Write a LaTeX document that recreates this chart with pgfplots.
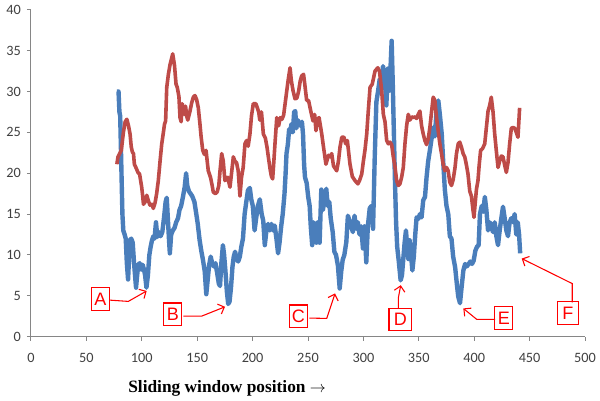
\documentclass[border=0pt]{standalone}
\usepackage{fontspec}
\setmainfont{Carlito}
\newfontfamily\serifb{Liberation Serif}
\newfontfamily\lsans{Liberation Sans}
\usepackage{pgfplots}
\pgfplotsset{compat=1.18}
\usetikzlibrary{arrows.meta}
\definecolor{xlblue}{HTML}{4A7EBB}
\definecolor{xlred}{HTML}{BE4B48}
\definecolor{axgray}{HTML}{868686}
\pgfplotstableread{
x y
77.5 30
79 30
79.8 27.5
80.5 27
81.5 21
82.5 15
83.3 13
84.5 12.5
85.5 12
86.5 9
87.6 7
88.3 9
89.2 11.8
90.5 12
91.8 11.5
93 9
94.8 6
95.8 7.5
96.8 8.8
98 9
99.5 8.2
100.8 8.8
102 8.2
103 7.5
104.2 6
105.5 7.5
106.8 10
108 11
109.2 11.8
110.5 12.3
111.5 12
112.8 14
114 12.2
115.5 12.8
117 12.3
118.5 12.8
120 14.5
121.5 16.5
122.5 17
123.5 14.5
124.5 12
125.3 10.2
126.5 12.5
128 13
129.5 13.3
131 14
132.7 14.5
134 15.5
135.5 16
137 17
138.7 18.3
140 20
141 18.5
142.5 17.8
144 17.5
145.5 17.2
147.5 16.5
149.2 15
150.5 13.8
152.2 11.8
153.7 10.5
155.2 9.4
156.8 8
158.2 5.2
159.5 7
160.8 8.8
162.2 9.8
163.5 9
165 8.6
166.5 9
168 7.8
169.5 6.5
170.6 6.2
171.8 9
173.2 11.2
174.3 10
175.5 8
176.8 5.5
178 4
179.2 4.3
180.5 6
181.8 8.5
183 9.8
184.2 10.4
185.5 9.6
187 9.2
188.5 9.8
189.8 11
191.3 12
192.8 15
194.3 16.5
195.8 17.9
197.5 18.2
198.8 16.8
200.2 16
201.8 13
203.2 14.5
204.8 16
206.5 16.8
208.2 15
209.6 14.2
211 11.2
212.5 13
214 13.8
215.5 13
217 13.8
218.5 13
220 13.6
221.5 12
223 10.2
224.3 11.5
225.8 13.5
227.2 15
228.8 17.5
229.8 20
230.6 22.4
231.8 23.5
233 25.4
234.2 25
235 26
236.3 25
237.5 27.5
238.5 27.6
239.5 25.5
240.8 26.5
242 26
243.3 25.8
244.5 26.3
245.5 24.8
246.5 21
247.3 19.5
248.8 18.8
250.2 17.1
251.5 16
252.5 13.5
253.8 11.2
255 14
256.3 13.5
257.5 11.5
259 14
260.5 11.5
262 18
263.5 15.5
265 17
266.5 18.1
267.8 16
269.2 16.5
270.5 14.5
272.3 12.8
273.8 10.4
275.3 10
277 8.7
278.6 5.9
280 8
281.3 9.4
282.8 10
284.6 11.6
286 14.8
287.5 14.2
289 13.5
290.5 12.8
292 14.8
293.5 13.2
295 14
296.5 12.5
298 13.5
299.6 10.8
301 13.5
302.6 9.1
304 13.5
305.7 15.7
307.2 16
308.7 13.2
310.2 21.8
311.7 28.7
313.2 30
314.7 31.5
316 30.5
317.7 33.1
319.2 31.8
320.7 28.3
322.2 32.8
323.5 30.1
324.5 33
325.5 36.2
326.5 31
327.5 25
328.5 19
329.5 14
330.5 11
331.8 9.4
333.6 6.9
334.8 7.5
336 9.5
337.2 11.5
338.4 13
339.6 11
340.6 9.5
341.7 11.8
343 10
344.2 8.1
345.5 9.8
346.8 12.5
348 14.6
349.5 14.4
351 15
352.5 14.6
354 16.7
355.6 17.1
357 19.5
358.5 21.5
360 22.8
361.5 24.2
363 25.6
364.5 24.5
366 27.6
367.6 28.9
369 27.2
370.7 24.8
372 21.5
373.5 18
375 16
376.6 15
378 12.3
379.5 12
381 9.8
382.8 8.5
384.3 6.5
385.6 4.9
387.2 4.1
388.6 6
390.2 8.1
391.8 8.9
393.3 8.6
395 8.9
396.5 9.2
398 8.9
399.5 9.3
401 10.5
402.5 11
404 11.2
405.2 15
406.8 16
408.2 15.3
409.6 17.1
411 15.5
412.5 13
414 14
415.5 13.5
417 12.8
418.5 14
420 12.3
421.5 11.2
423 13
424.5 14.5
426 15.9
427.5 14.5
429 13
430.5 12.3
432 14
433.5 14.5
435 14
436.5 15
438 12.5
439.3 14
440.5 12.5
441.5 10.2
}\blueseries
\pgfplotstableread{
x y
77.5 21.1
78.5 22
80 22.4
81.5 22.8
83.4 25
85 26.3
86.5 26.6
88 25.8
89.4 24.8
90.5 23.2
91.5 22.6
92.5 22.4
93.3 21.1
95 20.6
96.5 20.1
98 19.9
99.9 18.3
100.8 17.2
101.5 16.2
103 16.5
104.5 17.3
106 16.6
107.4 16.1
109 16.2
110.4 15.7
112 16.4
113.4 17.5
114.9 19.1
116.5 21.5
118 23.6
119.5 25
120.5 26
121.5 26.4
122.5 30.5
124 32.1
125.5 33.3
127.9 34.6
129.5 33.2
130.9 30.9
132 30.5
133.5 29.4
134.5 26.8
135.5 26.3
136.5 28.5
137.5 27.8
138.5 27.2
139.5 28.2
140.5 27
141.5 26.5
143.5 27.6
145 28.6
146.5 29.3
148 29.5
149.5 29
151 28
152.5 26
153.5 24.5
155 22.8
156.5 22.3
158 22.8
159 21.5
160 20.3
162 19.5
163.5 18.5
164.5 17.7
166.5 17.5
168 17.7
169.5 18.5
170.6 20.3
172.1 22.4
173.5 21.5
175 19.1
177.5 19.5
179.6 18.3
181 20
182.6 22
184 21.5
185.5 21.3
187 20.3
188.6 17.2
190 19.5
191.5 20.7
193.1 23.6
194.5 24
196 23.3
197.6 24.8
199 27
200.6 28.5
203 28.5
205.5 27.5
206.5 26.5
208 27.5
209.7 24.8
211.5 24.3
213 23.2
214.2 22
215.8 20.5
217 19.6
218.1 19.3
219.2 21.5
220.2 23.6
221.8 26.8
223.5 25.8
225 26.8
226.5 26.6
228 27.1
230.1 29.3
232 31.3
233.8 32.9
235 31.3
236.5 30.1
238.3 29.1
240 29.2
241.5 30
243 31.3
244.3 31.9
246 32.1
247 31
248.8 28.9
250.5 28.9
252.5 27.6
254.5 26.4
256 27.2
257.2 25.2
258.5 26.6
260 26.8
262.4 24.8
264 23.2
266.2 21.1
268.5 22.2
270 22
271.4 22.4
273 20.9
275.9 20.3
277.5 21.5
278.9 23.2
280.5 24.4
282.5 24.4
284 23.6
285.5 24
287.9 21.1
290 19.6
292.4 19.1
295 18.7
296.5 19.1
298.5 19.9
300 21.5
301.4 22.8
303 24.8
304.4 27.6
306 30.5
308 30.9
310.5 32.5
313 32.9
314.5 32.5
316.5 30.1
318 27.2
319.5 26.3
321 24
322.5 23.6
324 23.8
325.5 23.5
327 22
328.5 20.8
330 19.1
331.5 18.5
333 18.7
334.5 19.5
336 20.7
337.5 23.6
339 25.8
340.5 27.2
342 26.5
343.5 26.9
345 26.8
346.5 26.9
348 26.7
349.5 27.2
351 27.6
352.5 25.8
354 24.8
355.5 24
357 23.5
358.5 24.2
360 25.6
361.5 27.5
363 29.3
364.5 28.9
366 26.8
367.5 25.2
369 23.6
370.5 22.4
372 21.1
373.5 20.3
375 20.7
376.5 20.3
378 18.9
379.5 18.5
381 19.2
382.7 20.7
384 22.4
385.6 23.6
387 23.8
388.5 23.2
390 22.4
391.5 22
393 21
394.4 19.9
396 17.8
397.5 17.2
398.9 15.5
399.8 14.6
401 16.5
402 18
403.4 19.1
404.5 21
405.8 22.8
407.5 23
409.5 23.6
411 25.6
412.5 27.6
414 28.3
415.4 29.3
417 27.5
418.5 24.8
420 22.7
421.5 20.7
423 21.5
424.5 22.1
426 22
427.5 21
429 20.1
430.5 21.3
432 23.6
433.5 25.5
435 25.6
436.5 25.5
438 25
439.5 24.4
441 28
}\redseries
\begin{document}
\begin{tikzpicture}
\begin{axis}[name=ax, scale only axis, width=415.5pt, height=245.25pt,
  xmin=0, xmax=500, ymin=0, ymax=40,
  axis lines*=left, axis line style={axgray, line width=0.75pt, -},
  xtick={0,50,...,500}, ytick={0,5,...,40},
  tick align=outside, major tick length=3pt,
  tick style={axgray, line width=0.75pt},
  tick label style={font=\fontsize{10.7}{12}\selectfont, text=black!75},
  xticklabel style={yshift=-6pt},
  yticklabel style={xshift=-1pt},
  /pgf/number format/assume math mode=true,
  clip=false,
  xlabel={\serifb\bfseries Sliding window position $\rightarrow$},
  xlabel style={at={(rel axis cs:0.354,-0.158)}, anchor=center, font=\fontsize{13}{15}\selectfont},
  ]
\addplot[xlblue, line width=3.3pt, line join=round] table[x=x,y=y] {\blueseries};
\addplot[xlred, line width=2.7pt, line join=round] table[x=x,y=y] {\redseries};
\tikzset{lbl/.style={draw=red, line width=0.9pt, text=red, font=\lsans\fontsize{13.5}{13.5}\selectfont, minimum width=13.5pt, minimum height=17pt, inner sep=1pt},
  arr/.style={red, line width=0.8pt, -{Straight Barb[length=4pt,width=8pt]}}}
\draw[arr] (axis cs:70.7,4.48) -- (axis cs:87.8,4.32) -- (axis cs:104.4,5.6);
\node[lbl] at (axis cs:62.7,4.63) {A};
\draw[arr] (axis cs:137.5,2.52) -- (axis cs:154.1,2.52) -- (axis cs:175.1,3.66);
\node[lbl] at (axis cs:128,2.74) {B};
\draw[arr] (axis cs:251.2,2.28) -- (axis cs:266.9,2.24) -- (axis cs:274.4,5.29);
\node[lbl] at (axis cs:241.2,2.5) {C};
\draw[arr] (axis cs:331.5,3.46) -- (axis cs:331.5,4.72) -- (axis cs:333.7,6.3);
\node[lbl, minimum width=17pt] at (axis cs:333.3,2.1) {D};
\draw[arr] (axis cs:418.8,2.12) -- (axis cs:402.3,2.12) -- (axis cs:390.2,3.46);
\node[lbl] at (axis cs:426.7,2.3) {E};
\draw[arr] (axis cs:488.5,4.2) -- (axis cs:488.5,6.5) -- (axis cs:442.9,9.56);
\node[lbl, minimum width=16pt] at (axis cs:484.5,2.91) {F};
\end{axis}
\pgfresetboundingbox
\path ([shift={(-23.25pt,-47.5pt)}]ax.south west) rectangle ([shift={(11.25pt,7.3pt)}]ax.north east);
\end{tikzpicture}
\end{document}
